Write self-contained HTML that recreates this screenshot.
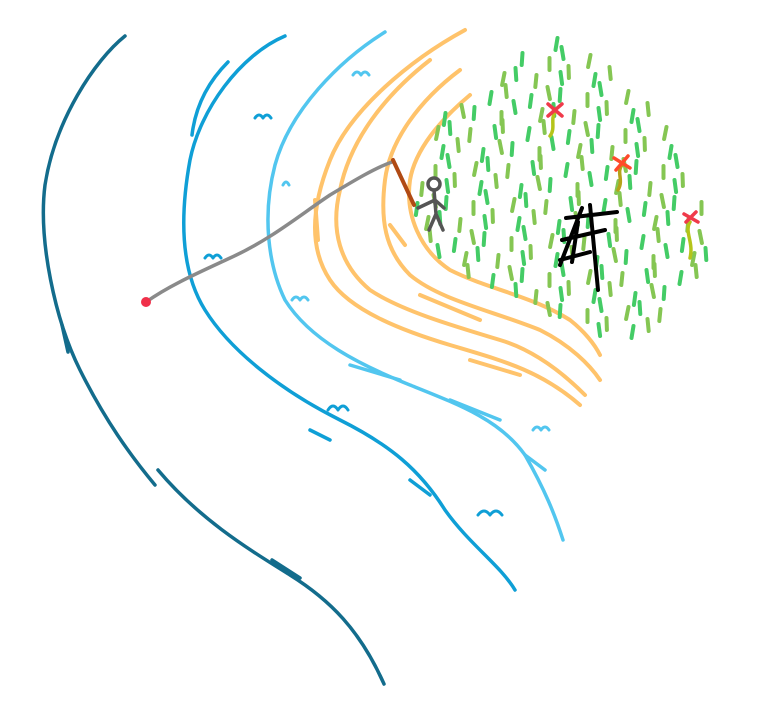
<!DOCTYPE html>
<html><head><meta charset="utf-8"><style>
html,body{margin:0;padding:0;background:#fff;}
svg{display:block;}
</style></head><body>
<svg id="scene" width="770" height="708" viewBox="0 0 770 708" xmlns="http://www.w3.org/2000/svg" fill="none" stroke-linecap="round" stroke-linejoin="round">
  <g stroke="#136c8c" stroke-width="3.5">
    <path d="M125,36 C95,60 55,120 45,185 C38,240 55,320 80,370 C105,420 130,455 155,485"/>
    <path d="M158,470 C200,520 250,550 290,575 C330,600 360,630 384,684"/>
    <path d="M62,325 L68,352"/>
    <path d="M272,560 L300,578"/>
  </g>
  <g stroke="#0f9fd6" stroke-width="3.5">
    <path d="M285,36 C240,55 200,110 190,160 C180,215 180,270 205,310 C230,350 280,390 340,420 C390,445 420,470 445,510 C470,545 500,565 515,590"/>
    <path d="M228,62 C205,85 195,110 192,135"/>
    <path d="M310,430 L330,440"/>
    <path d="M410,480 L430,495"/>
    <path d="M255,118 q4,-6 8,0 q4,-6 8,0" stroke-width="3"/>
    <path d="M205,258 q4,-6 8,0 q4,-6 8,0" stroke-width="3"/>
    <path d="M328,410 q5,-8 10,0 q5,-8 10,0" stroke-width="3"/>
    <path d="M478,515 q6,-8 12,0 q6,-8 12,0" stroke-width="3"/>
  </g>
  <g stroke="#52c6ef" stroke-width="3.5">
    <path d="M385,32 C340,60 290,110 275,165 C262,215 268,265 285,300 C310,340 360,365 410,385 C460,405 500,420 525,455 C545,490 555,515 563,540"/>
    <path d="M350,365 L400,380"/>
    <path d="M450,400 L500,420"/>
    <path d="M525,455 L545,470"/>
    <path d="M353,75 q4,-6 8,0 q4,-6 8,0" stroke-width="3"/>
    <path d="M283,185 q3,-6 6,0" stroke-width="3"/>
    <path d="M292,300 q4,-6 8,0 q4,-6 8,0" stroke-width="3"/>
    <path d="M533,430 q4,-6 8,0 q4,-6 8,0" stroke-width="3"/>
  </g>
  <g stroke="#ffc36b" stroke-width="4">
    <path d="M465,30 C410,60 350,110 330,160 C310,210 310,250 330,280 C350,310 400,330 450,345 C500,360 540,370 580,405"/>
    <path d="M430,60 C385,95 350,140 340,190 C330,230 340,265 370,290 C400,310 450,325 500,340 C540,352 570,380 585,395"/>
    <path d="M460,70 C420,100 390,140 385,180 C380,220 385,250 410,275 C440,300 490,310 540,330 C570,345 590,365 600,380"/>
    <path d="M470,95 C440,120 415,150 410,180 C405,215 420,250 450,270 C490,290 530,295 570,320 C585,332 595,345 600,355"/>
    <path d="M315,200 L318,240"/>
    <path d="M420,295 L480,320"/>
    <path d="M470,360 L520,375"/>
    <path d="M390,225 L405,245"/>
  </g>
  <g id="grass" stroke-width="4"></g>
  <path d="M146,302 C170,285 200,272 230,258 C270,240 300,215 330,195 C355,180 375,168 392,162" stroke="#8a8a8a" stroke-width="3.5"/>
  <circle cx="146" cy="302" r="5" fill="#f0304a"/>
  <path d="M393,160 L414,205" stroke="#b04a14" stroke-width="4"/>
  <g stroke="#555" stroke-width="3.5">
    <circle cx="434" cy="184" r="6"/>
    <path d="M434,190 L436,214 M436,214 L429,230 M436,214 L443,230 M435,200 L418,208 M435,200 L444,208"/>
  </g>
  <g stroke="#000" stroke-width="4">
    <path d="M590,205 L598,290 M566,218 L617,212 M562,240 L605,230 M560,260 L590,252 M582,208 L560,265 M578,222 L572,262"/>
  </g>
  <g stroke-width="3.5">
    <path d="M555,112 C550,120 556,128 550,136" stroke="#b5c41a"/>
    <path d="M548,104 L562,116 M562,104 L548,116" stroke="#f03a4a"/>
    <path d="M622,165 C616,172 624,180 618,190" stroke="#b5a31a"/>
    <path d="M614,158 L630,168 M628,156 L616,170" stroke="#ff4a2a"/>
    <path d="M690,222 C684,232 694,242 690,258" stroke="#b5c41a"/>
    <path d="M684,214 L698,222 M696,212 L686,222" stroke="#f03a4a"/>
  </g>
</svg>
<script>
var g=document.getElementById('grass');
var ns='http://www.w3.org/2000/svg';
var pat=[3,-4,6,-2,0,5,-6,2,-3,4,1,-5];
var LB=[[35,540],[60,500],[100,450],[140,420],[200,412],[240,430],[270,470],[300,540],[345,605]];
var RB=[[35,575],[60,610],[100,655],[150,690],[200,708],[260,705],[300,680],[345,635]];
function interp(t,y){
  if(y<t[0][0]||y>t[t.length-1][0]) return null;
  for(var i=1;i<t.length;i++){ if(y<=t[i][0]){var a=t[i-1],b=t[i];return a[1]+(b[1]-a[1])*(y-a[0])/(b[0]-a[0]);} }
  return null;
}
var k=0;
for(var y=35;y<=340;y+=18){
  for(var x=405;x<=715;x+=19){
    var jx=pat[k%12],jy=pat[(k+5)%12];k++;
    var px=x+jx+((y/18)%2)*9, py=y+jy;
    var left=interp(LB,py), right=interp(RB,py);
    if(left===null||px<left||px>right) continue;
    var l=document.createElementNS(ns,'path');
    var tilt=pat[(k+3)%12]*0.4;
    l.setAttribute('d','M'+px+','+py+' l'+tilt+',12');
    l.setAttribute('stroke',k%2==0?'#44cc66':'#85c653');
    
    
    g.appendChild(l);
  }
}
</script>
</body></html>
